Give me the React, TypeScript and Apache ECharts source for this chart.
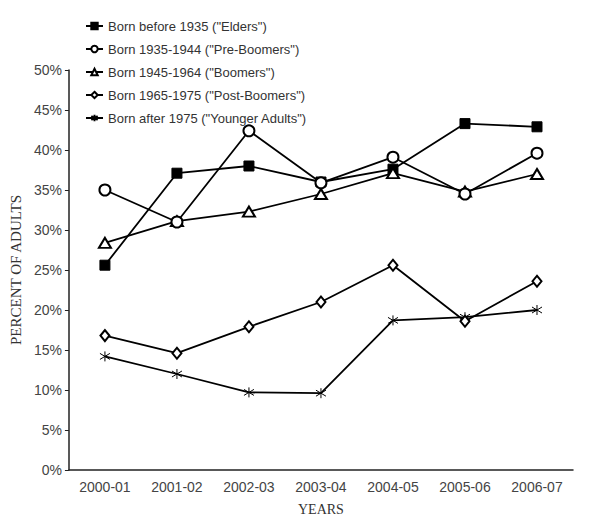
import React, { useEffect, useRef } from "react";
import * as echarts from "echarts";

const years = ["2000-01", "2001-02", "2002-03", "2003-04", "2004-05", "2005-06", "2006-07"];
const elders = [25.6, 37.1, 38.0, 36.0, 37.6, 43.3, 42.9];
const preBoomers = [35.0, 31.0, 42.4, 35.9, 39.1, 34.5, 39.6];
const boomers = [28.4, 31.1, 32.3, 34.5, 37.1, 34.8, 37.0];
const postBoomers = [16.8, 14.6, 17.9, 21.0, 25.6, 18.6, 23.6];
const youngerAdults = [14.2, 12.0, 9.7, 9.6, 18.7, 19.1, 20.0];
const seriesNames = [
  'Born before 1935 ("Elders")',
  'Born 1935-1944 ("Pre-Boomers")',
  'Born 1945-1964 ("Boomers")',
  'Born 1965-1975 ("Post-Boomers")',
  'Born after 1975 ("Younger Adults")',
];

const asterisk = "path://M5,0L5,10M0,2L10,8M0,8L10,2";

export default function App() {
  const ref = useRef<HTMLDivElement>(null);
  useEffect(() => {
    if (!ref.current) return;
    const chart = echarts.init(ref.current, undefined, { renderer: "svg" });
    const line = { color: "#000", width: 1.8 };
    const mk = (name: string, data: number[], symbol: string, size: number | number[], extra: any = {}) => ({
      name,
      type: "line",
      data,
      symbol,
      symbolSize: size,
      color: "#000",
      lineStyle: line,
      itemStyle: { borderWidth: 1, borderColor: "#000", ...extra },
      z: 2,
    });
    chart.setOption({
      animation: false,
      backgroundColor: "#fff",
      textStyle: { fontFamily: "Liberation Sans, Arial, sans-serif" },
      legend: {
        orient: "vertical",
        left: 80,
        top: 14,
        itemWidth: 17,
        itemHeight: 8,
        itemGap: 9,
        textStyle: { fontSize: 13, color: "#333", lineHeight: 14, fontFamily: "Liberation Sans, Arial, sans-serif" },
        data: seriesNames,
      },
      grid: { left: 65, top: 70, right: 28, bottom: 54 },
      xAxis: {
        type: "category",
        data: years,
        boundaryGap: true,
        name: "YEARS",
        nameLocation: "middle",
        nameGap: 32,
        nameTextStyle: { fontFamily: "Liberation Serif, Times New Roman, serif", fontSize: 14, color: "#333" },
        axisLine: { lineStyle: { color: "#222", width: 1.5 } },
        axisTick: { alignWithLabel: true, length: 6, lineStyle: { color: "#222" } },
        axisLabel: { fontSize: 14, color: "#444", margin: 10 },
      },
      yAxis: {
        type: "value",
        min: 0,
        max: 50,
        interval: 5,
        name: "PERCENT OF ADULTS",
        nameLocation: "middle",
        nameGap: 45,
        nameTextStyle: { fontFamily: "Liberation Serif, Times New Roman, serif", fontSize: 15, color: "#333" },
        axisLine: { show: true, lineStyle: { color: "#222", width: 1.5 } },
        axisTick: { show: true, length: 4, lineStyle: { color: "#222" } },
        splitLine: { show: false },
        axisLabel: { fontSize: 14, color: "#444", margin: 7, formatter: "{value}%" },
      },
      series: [
        mk(seriesNames[4], youngerAdults, asterisk, 10, { color: "#000" }),
        mk(seriesNames[3], postBoomers, "emptyDiamond", [9, 11]),
        mk(seriesNames[0], elders, "rect", 10, { color: "#000" }),
        mk(seriesNames[2], boomers, "emptyTriangle", [12, 10]),
        mk(seriesNames[1], preBoomers, "emptyCircle", 11),
      ],
    });
    return () => chart.dispose();
  }, []);
  return <div ref={ref} style={{ position: "fixed", left: 0, top: 0, width: 601, height: 524 }} />;
}
